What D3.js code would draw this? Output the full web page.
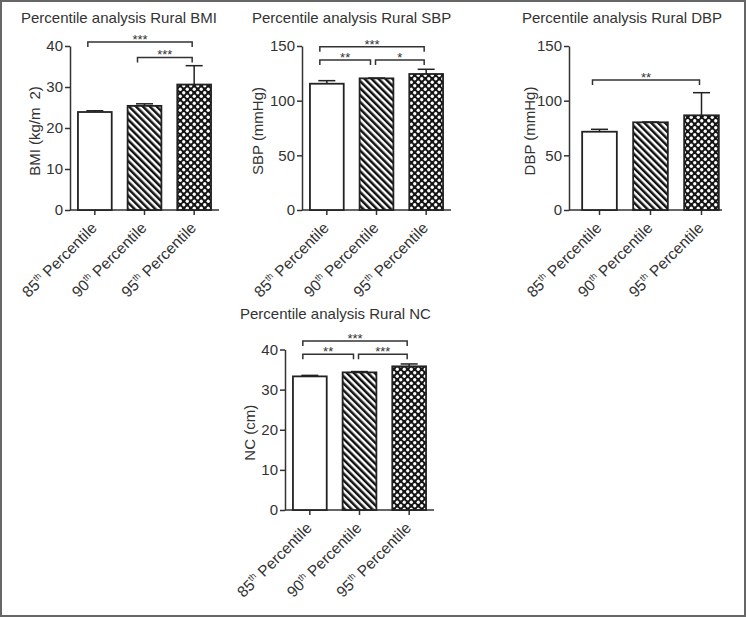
<!DOCTYPE html>
<html>
<head>
<meta charset="utf-8">
<script src="https://cdn.jsdelivr.net/npm/d3@7/dist/d3.min.js"></script>
<style>
  html, body { margin: 0; padding: 0; background: #fff; }
  svg { display: block; font-family: "Liberation Sans", Arial, Helvetica, sans-serif; }
</style>
</head>
<body>
<svg id="chart" width="746" height="617"></svg>
<script>
// ---------- DATA ----------
const categories = ["85", "90", "95"];
const categorySup = "th";
const categorySuffix = " Percentile";

const bmiMean = [23.9, 25.4, 30.6];
const bmiErr  = [0.3, 0.5, 4.6];
const sbpMean = [115.5, 120.4, 124.4];
const sbpErr  = [2.8, 0.3, 4.3];
const dbpMean = [71.6, 80.2, 86.6];
const dbpErr  = [2.2, 0.3, 20.7];
const ncMean  = [33.3, 34.3, 35.8];
const ncErr   = [0.25, 0.2, 0.6];

const bmiTicks = [0, 10, 20, 30, 40];
const bpTicks  = [0, 50, 100, 150];
const ncTicks  = [0, 10, 20, 30, 40];

// significance brackets: [fromIndex, toIndex, label, level (data units)]
const bmiSig = [[0, 2, "***", 41.0], [1, 2, "***", 37.2]];
const sbpSig = [[0, 2, "***", 149.4], [0, 1, "**", 137.2], [1, 2, "*", 137.2]];
const dbpSig = [[0, 2, "**", 118.9]];
const ncSig  = [[0, 2, "***", 42.1], [0, 1, "**", 38.8], [1, 2, "***", 38.8]];

const titles = ["Percentile analysis Rural BMI", "Percentile analysis Rural SBP",
                "Percentile analysis Rural DBP", "Percentile analysis Rural NC"];

// ---------- LAYOUT ----------
const panels = [
  { title: titles[0], ylabel: "BMI (kg/m", ysup: "2)", mean: bmiMean, err: bmiErr, ticks: bmiTicks, sig: bmiSig,
    axisX: 70, xEnd: 219, bandStart: 70, y0: 210, y1: 46, ymax: 40, titleX: 21, titleY: 23, ylabX: 40 },
  { title: titles[1], ylabel: "SBP (mmHg)", mean: sbpMean, err: sbpErr, ticks: bpTicks, sig: sbpSig,
    axisX: 302, xEnd: 451, bandStart: 302, y0: 210, y1: 46, ymax: 150, titleX: 252, titleY: 23, ylabX: 263 },
  { title: titles[2], ylabel: "DBP (mmHg)", mean: dbpMean, err: dbpErr, ticks: bpTicks, sig: dbpSig,
    axisX: 569, xEnd: 722, bandStart: 574, y0: 210, y1: 46, ymax: 150, titleX: 522, titleY: 23, ylabX: 535 },
  { title: titles[3], ylabel: "NC (cm)", mean: ncMean, err: ncErr, ticks: ncTicks, sig: ncSig,
    axisX: 285, xEnd: 434, bandStart: 285, y0: 510, y1: 349.5, ymax: 40, titleX: 240, titleY: 319, ylabX: 255 }
];

const ink = "#333";
const svg = d3.select("#chart");

// frame
svg.append("rect").attr("x", 1).attr("y", 1).attr("width", 744).attr("height", 615)
  .attr("fill", "#fff").attr("stroke", "#666").attr("stroke-width", 2);

// patterns
const defs = svg.append("defs");
const stripe = defs.append("pattern").attr("id", "stripes")
  .attr("patternUnits", "userSpaceOnUse").attr("width", 4.9).attr("height", 10)
  .attr("patternTransform", "rotate(-45)");
stripe.append("rect").attr("width", 4.9).attr("height", 10).attr("fill", "#fff");
stripe.append("rect").attr("width", 2.5).attr("height", 10).attr("fill", "#111");

const dots = defs.append("pattern").attr("id", "dots")
  .attr("patternUnits", "userSpaceOnUse").attr("width", 7).attr("height", 7);
dots.append("rect").attr("width", 7).attr("height", 7).attr("fill", "#151515");
[[1.75, 1.75], [5.25, 5.25]].forEach(([cx, cy]) =>
  dots.append("circle").attr("cx", cx).attr("cy", cy).attr("r", 1.65).attr("fill", "#fff"));

const fills = ["#fff", "url(#stripes)", "url(#dots)"];

panels.forEach(p => {
  const g = svg.append("g");
  const y = d3.scaleLinear().domain([0, p.ymax]).range([p.y0, p.y1]);
  const x = d3.scaleBand().domain(categories)
    .range([p.bandStart, p.bandStart + (p.xEnd - p.axisX)])
    .paddingInner(0.32).paddingOuter(0.16);
  const cx = c => x(c) + x.bandwidth() / 2;

  // title
  g.append("text").attr("x", p.titleX).attr("y", p.titleY)
    .attr("font-size", 15).attr("fill", ink).text(p.title);

  // y axis
  const ya = g.append("g").attr("transform", `translate(${p.axisX},0)`)
    .call(d3.axisLeft(y).tickValues(p.ticks).tickSize(5).tickSizeOuter(0).tickPadding(2));
  ya.select(".domain").attr("stroke", ink).attr("stroke-width", 1.5);
  ya.selectAll(".tick line").attr("stroke", ink).attr("stroke-width", 1.5);
  ya.selectAll(".tick text").attr("font-size", 15).attr("fill", ink)
    .attr("font-family", "'Liberation Sans', Arial, sans-serif");

  // y label
  const ymid = (p.y0 + p.y1) / 2 + 3;
  const yl = g.append("text").attr("transform", `translate(${p.ylabX},${ymid}) rotate(-90)`)
    .attr("text-anchor", "middle").attr("font-size", 15).attr("fill", ink);
  yl.append("tspan").text(p.ylabel);
  if (p.ysup) yl.append("tspan").attr("dx", 8).text(p.ysup);

  // x axis
  const xa = g.append("g").attr("transform", `translate(0,${p.y0})`)
    .call(d3.axisBottom(x).tickSize(5).tickSizeOuter(0).tickFormat(""));
  xa.select(".domain").remove();
  xa.selectAll(".tick line").attr("stroke", ink).attr("stroke-width", 1.5);
  g.append("line").attr("x1", p.axisX).attr("x2", p.xEnd).attr("y1", p.y0).attr("y2", p.y0)
    .attr("stroke", ink).attr("stroke-width", 1.5);

  // x labels
  categories.forEach(c => {
    const t = g.append("text")
      .attr("transform", `translate(${cx(c) + 3},${p.y0 + 19}) rotate(-45)`)
      .attr("text-anchor", "end").attr("font-size", 15.5).attr("fill", ink);
    t.append("tspan").text(c);
    t.append("tspan").attr("font-size", 9).attr("dy", -6).text(categorySup);
    t.append("tspan").attr("dy", 6).text(categorySuffix);
  });

  // error bars
  categories.forEach((c, i) => {
    const top = y(p.mean[i] + p.err[i]);
    g.append("line").attr("x1", cx(c)).attr("x2", cx(c))
      .attr("y1", y(p.mean[i])).attr("y2", top).attr("stroke", "#222").attr("stroke-width", 1.5);
    g.append("line").attr("x1", cx(c) - 8.5).attr("x2", cx(c) + 8.5)
      .attr("y1", top).attr("y2", top).attr("stroke", "#222").attr("stroke-width", 1.5);
  });

  // bars
  g.selectAll("rect.bar").data(p.mean).join("rect").attr("class", "bar")
    .attr("x", (d, i) => x(categories[i]))
    .attr("y", d => y(d))
    .attr("width", x.bandwidth())
    .attr("height", d => p.y0 - y(d))
    .attr("fill", (d, i) => fills[i])
    .attr("stroke", "#222").attr("stroke-width", 1.8);

  // significance brackets
  p.sig.forEach(([a, b, lab, lvl]) => {
    const shareEnd = p.sig.some(s => s[0] === b && s[3] === lvl);
    const shareStart = p.sig.some(s => s[1] === a && s[3] === lvl);
    const x1 = cx(categories[a]) - (shareStart ? 1 : 7);
    const x2 = cx(categories[b]) - (shareEnd ? 6 : 2);
    const yy = y(lvl);
    g.append("path")
      .attr("d", `M${x1},${yy + 5}V${yy}H${x2}V${yy + 5}`)
      .attr("fill", "none").attr("stroke", ink).attr("stroke-width", 1.5);
    g.append("text").attr("x", (x1 + x2) / 2).attr("y", yy + 2)
      .attr("text-anchor", "middle").attr("font-size", 13).attr("fill", ink).text(lab);
  });
});
</script>
</body>
</html>
